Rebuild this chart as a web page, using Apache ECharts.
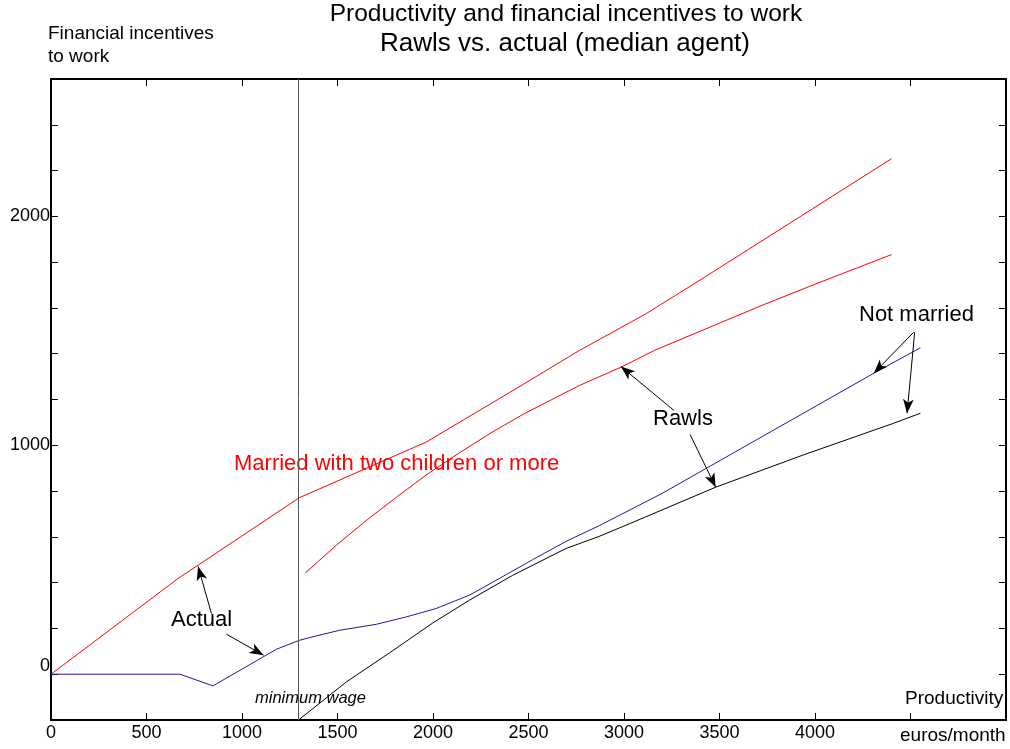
<!DOCTYPE html>
<html>
<head>
<meta charset="utf-8">
<script src="https://cdn.jsdelivr.net/npm/echarts@6/dist/echarts.min.js"></script>
<style>
html,body{margin:0;padding:0;background:#fff;}
#chart{width:1010px;height:749px;}
</style>
</head>
<body>
<div id="chart"></div>
<script>
// ---- data (euros/month productivity -> financial incentives to work) ----
const actualMarried = [[0,0],[665,418],[1300,771],[1964,1014],[2400,1230],[2766,1414],[3114,1574],[3393,1719],[4401,2252]];
const rawlsMarried = [[1331,442],[1493,563],[1656,675],[1816,778],[1969,873],[2138,967],[2309,1057],[2482,1140],[2766,1261],[2984,1341],[3158,1414],[3498,1533],[3733,1615],[4047,1719],[4401,1833]];
const actualSingle = [[0,0],[675,0],[848,-51],[1180,109],[1300,148],[1354,160],[1511,192],[1703,218],[1859,250],[2016,287],[2190,345],[2347,418],[2521,500],[2696,580],[2873,650],[3200,790],[3428,898],[4317,1319],[4552,1426]];
const rawlsSingle = [[1296,-200],[1546,-34],[1772,93],[1999,224],[2190,323],[2417,432],[2696,549],[2870,602],[3079,675],[3480,817],[3933,956],[4404,1094],[4552,1140]];
const minimumWage = 1296;
const xTickLabels = ['0','500','1000','1500','2000','2500','3000','3500','4000'];
const yTickLabels = ['0','1000','2000'];
// annotation arrows [from, to] in data coordinates
const arrows = [
  [[840,265],[770,471]],
  [[918,175],[1113,83]],
  [[3262,1152],[2984,1344]],
  [[3346,1047],[3480,817]],
  [[4517,1494],[4308,1315]],
  [[4522,1494],[4482,1140]]
];

const FONT = "'Liberation Sans', Arial, Helvetica, sans-serif";
const chart = echarts.init(document.getElementById('chart'), null, {renderer:'canvas'});

const axisLineStyle = {onZero:false, lineStyle:{color:'#000', width:2}};
const tickStyle = {inside:true, length:7, lineStyle:{color:'#000', width:1}};

const option = {
  animation:false,
  backgroundColor:'#fff',
  grid:{left:51, right:4, top:79, bottom:29, containLabel:false},
  xAxis:[
    {type:'value', position:'bottom', min:0, max:5000, interval:500,
     axisLine:axisLineStyle, axisTick:tickStyle, splitLine:{show:false},
     axisLabel:{color:'#000', fontFamily:FONT, fontSize:18, margin:4,
       formatter:v => { const s=String(v); return xTickLabels.indexOf(s)>=0 ? s : ''; }}},
    {type:'value', position:'top', min:0, max:5000, interval:500,
     axisLine:axisLineStyle, axisTick:tickStyle, splitLine:{show:false}, axisLabel:{show:false}}
  ],
  yAxis:[
    {type:'value', position:'left', min:-200, max:2600, interval:200,
     axisLine:axisLineStyle, axisTick:tickStyle, splitLine:{show:false},
     axisLabel:{color:'#000', fontFamily:FONT, fontSize:18, margin:1,
       rich:{z:{fontFamily:FONT, fontSize:18, color:'#000', padding:[0,0,16,0]}},
       formatter:v => { const s=String(v); if (yTickLabels.indexOf(s)<0) return ''; return v===0 ? '{z|'+s+'}' : s; }}},
    {type:'value', position:'right', min:-200, max:2600, interval:200,
     axisLine:axisLineStyle, axisTick:tickStyle, splitLine:{show:false}, axisLabel:{show:false}}
  ],
  series:[
    {type:'line', data:actualMarried, showSymbol:false, lineStyle:{color:'#ff0000', width:1}, itemStyle:{color:'#ff0000'}, silent:true},
    {type:'line', data:rawlsMarried, showSymbol:false, lineStyle:{color:'#ff0000', width:1}, itemStyle:{color:'#ff0000'}, silent:true},
    {type:'line', data:actualSingle, showSymbol:false, lineStyle:{color:'#1c1c9c', width:1}, itemStyle:{color:'#1c1c9c'}, silent:true},
    {type:'line', data:rawlsSingle, showSymbol:false, lineStyle:{color:'#000', width:1}, itemStyle:{color:'#000'}, silent:true,
     markLine:{silent:true, symbol:['none','none'], label:{show:false},
       lineStyle:{color:'#555', width:1, type:'solid'},
       data:[{xAxis:minimumWage}]}},
    {type:'line', data:[], silent:true,
     markLine:{silent:true, symbol:['none','arrow'], symbolSize:[8,14], label:{show:false},
       lineStyle:{color:'#000', width:1, type:'solid'},
       data:arrows.map(a => [{coord:a[0]},{coord:a[1]}])}}
  ],
  graphic:[
    {type:'text', x:566, y:2, style:{text:'Productivity and financial incentives to work', align:'center', fontFamily:FONT, fontSize:24.5, fill:'#000'}},
    {type:'text', x:565, y:31, style:{text:'Rawls vs. actual (median agent)', align:'center', fontFamily:FONT, fontSize:26, fill:'#000'}},
    {type:'text', x:48, y:24, style:{text:'Financial incentives', fontFamily:FONT, fontSize:19, fill:'#000'}},
    {type:'text', x:48, y:47, style:{text:'to work', fontFamily:FONT, fontSize:19, fill:'#000'}},
    {type:'text', x:234, y:453, style:{text:'Married with two children or more', fontFamily:FONT, fontSize:22, fill:'#ff0000'}},
    {type:'text', x:171, y:609, style:{text:'Actual', fontFamily:FONT, fontSize:22, fill:'#000'}},
    {type:'text', x:653, y:408, style:{text:'Rawls', fontFamily:FONT, fontSize:22, fill:'#000'}},
    {type:'text', x:859, y:304, style:{text:'Not married', fontFamily:FONT, fontSize:22, fill:'#000'}},
    {type:'text', x:255, y:690, style:{text:'minimum wage', fontFamily:FONT, fontSize:16.5, fontStyle:'italic', fill:'#000'}},
    {type:'text', x:905, y:689, style:{text:'Productivity', fontFamily:FONT, fontSize:19, fill:'#000'}},
    {type:'text', x:900, y:726, style:{text:'euros/month', fontFamily:FONT, fontSize:19, fill:'#000'}}
  ]
};
chart.setOption(option);
</script>
</body>
</html>
